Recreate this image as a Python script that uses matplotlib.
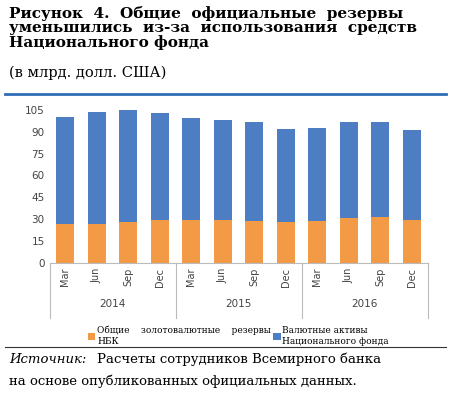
import matplotlib
matplotlib.use("Agg")
import matplotlib.pyplot as plt

quarters = ["Mar", "Jun", "Sep", "Dec"] * 3
years = ["2014", "2015", "2016"]
total = [100.2, 103.9, 105.0, 103.2, 99.8, 98.2, 96.6, 91.7, 92.9, 96.6, 96.6, 91.3]
nbk = [26.4, 26.4, 27.8, 29.6, 29.1, 29.1, 28.4, 27.8, 28.4, 30.7, 31.4, 29.6]
fund = [t - n for t, n in zip(total, nbk)]
labels = ["Общие    золотовалютные    резервы\nНБК", "Валютные активы\nНационального фонда"]

fig = plt.figure(figsize=(4.5, 4.0), dpi=100)
fig.text(0.02, 0.985, "Рисунок  4.  Общие  официальные  резервы\nуменьшились  из-за  использования  средств\nНационального фонда",
         family="DejaVu Serif", weight="bold", fontsize=11, va="top", linespacing=1.0)
fig.text(0.02, 0.835, "(в млрд. долл. США)", family="DejaVu Serif", fontsize=10.5, va="top")
fig.add_artist(plt.Line2D([0.01, 0.99], [0.765, 0.765], color="#2f6db5", lw=2))

ax = fig.add_axes([0.11, 0.343, 0.84, 0.382])
x = range(len(total))
ax.bar(x, nbk, width=0.58, color="#f39a46", label=labels[0])
ax.bar(x, fund, width=0.58, bottom=nbk, color="#4d7ec4", label=labels[1])
ax.set_ylim(0, 105)
ax.set_yticks(range(0, 106, 15))
ax.set_xlim(-0.5, 11.5)
ax.set_xticks(list(x))
ax.set_xticklabels(quarters, rotation=90, fontsize=7, color="#444")
ax.tick_params(axis="y", labelsize=7.5, colors="#444", length=0)
ax.tick_params(axis="x", length=0)
for s in ["top", "right", "left"]:
    ax.spines[s].set_visible(False)
ax.spines["bottom"].set_color("#bbb")
for i, y in enumerate(years):
    ax.text(4 * i + 1.5, -0.29, y, transform=ax.get_xaxis_transform(), ha="center", fontsize=7.5, color="#444")
for b in [-0.5, 3.5, 7.5, 11.5]:
    ax.plot([b, b], [0, -0.36], transform=ax.get_xaxis_transform(), color="#bbb", lw=0.8, clip_on=False)
ax.legend(loc="upper center", bbox_to_anchor=(0.5, -0.36), ncol=2, frameon=False,
          prop={"family": "DejaVu Serif", "size": 6.5}, handlelength=0.8, handleheight=0.8,
          columnspacing=0.3, handletextpad=0.2)

fig.add_artist(plt.Line2D([0.01, 0.99], [0.132, 0.132], color="#333", lw=0.8))
fig.text(0.02, 0.118, "Источник:", family="DejaVu Serif", style="italic", fontsize=9.5, va="top")
fig.text(0.215, 0.118, "Расчеты сотрудников Всемирного банка",
         family="DejaVu Serif", fontsize=9.5, va="top")
fig.text(0.02, 0.065, "на основе опубликованных официальных данных.",
         family="DejaVu Serif", fontsize=9.5, va="top")
fig.savefig("out.png", dpi=100, facecolor="white")
